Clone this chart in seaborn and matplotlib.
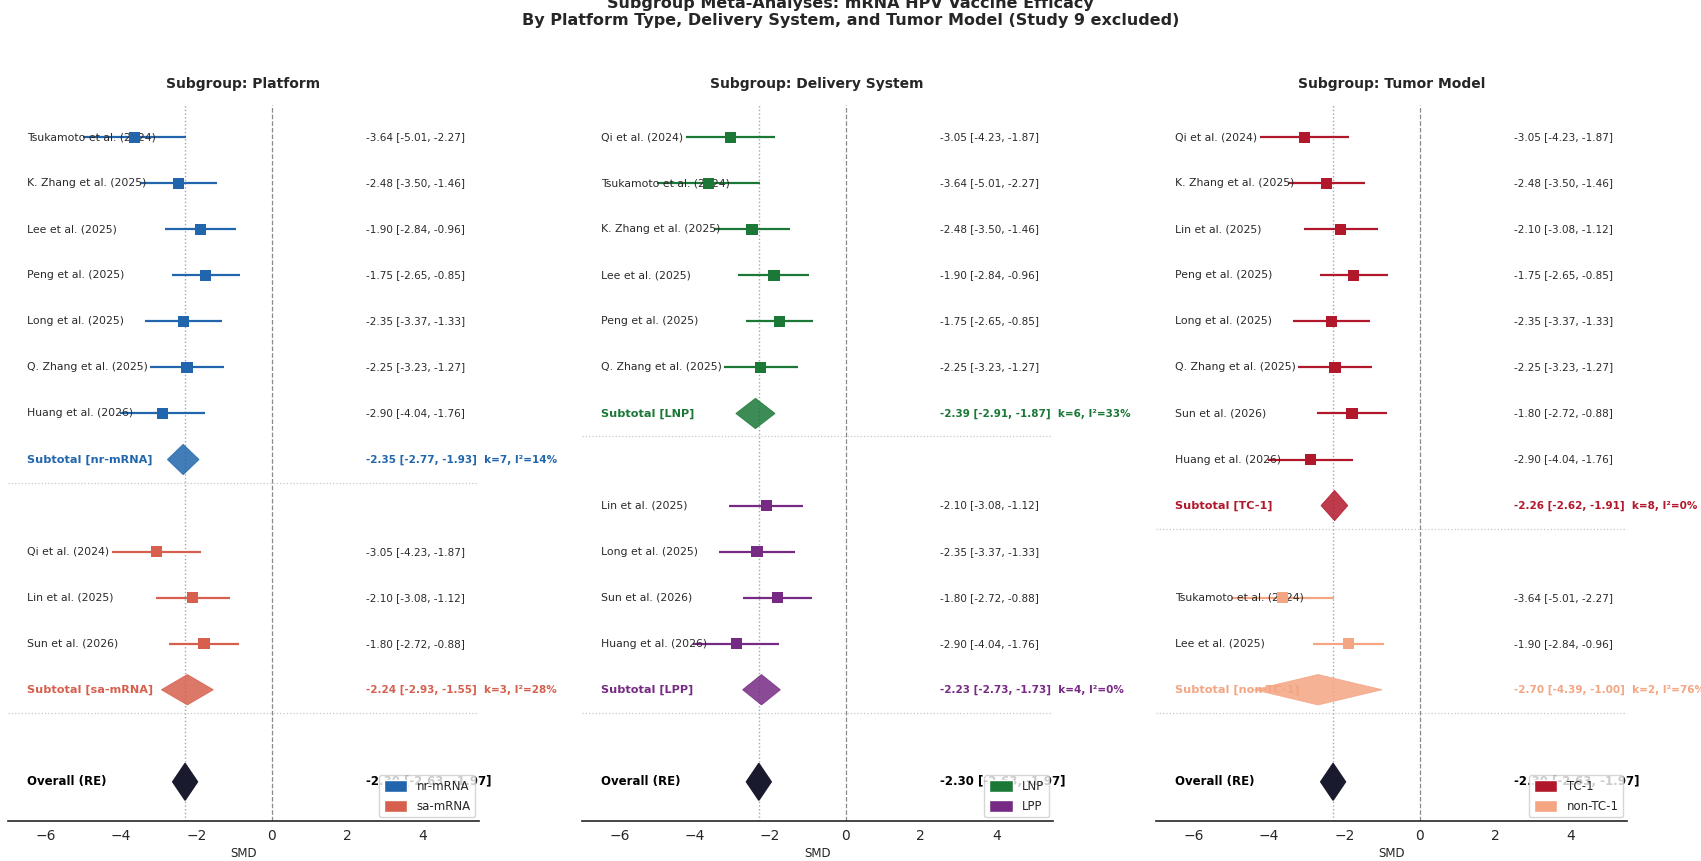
import matplotlib
matplotlib.use("Agg")
import matplotlib.pyplot as plt
from matplotlib.patches import Polygon, Patch
import pandas as pd
import seaborn as sns

# study level effects (SMD with 95% CI)
studies = ["Tsukamoto et al. (2024)", "K. Zhang et al. (2025)", "Lee et al. (2025)",
           "Peng et al. (2025)", "Long et al. (2025)", "Q. Zhang et al. (2025)",
           "Huang et al. (2026)", "Qi et al. (2024)", "Lin et al. (2025)", "Sun et al. (2026)"]
smd = [-3.64, -2.48, -1.90, -1.75, -2.35, -2.25, -2.90, -3.05, -2.10, -1.80]
ci_lo = [-5.01, -3.50, -2.84, -2.65, -3.37, -3.23, -4.04, -4.23, -3.08, -2.72]
ci_hi = [-2.27, -1.46, -0.96, -0.85, -1.33, -1.27, -1.76, -1.87, -1.12, -0.88]

# subgroup: platform
platform_groups = ["nr-mRNA", "sa-mRNA"]
platform_members = [["Tsukamoto et al. (2024)", "K. Zhang et al. (2025)", "Lee et al. (2025)",
                     "Peng et al. (2025)", "Long et al. (2025)", "Q. Zhang et al. (2025)",
                     "Huang et al. (2026)"],
                    ["Qi et al. (2024)", "Lin et al. (2025)", "Sun et al. (2026)"]]
platform_est = [-2.35, -2.24]
platform_lo = [-2.77, -2.93]
platform_hi = [-1.93, -1.55]
platform_k = [7, 3]
platform_i2 = [14, 28]

# subgroup: delivery system
delivery_groups = ["LNP", "LPP"]
delivery_members = [["Qi et al. (2024)", "Tsukamoto et al. (2024)", "K. Zhang et al. (2025)",
                     "Lee et al. (2025)", "Peng et al. (2025)", "Q. Zhang et al. (2025)"],
                    ["Lin et al. (2025)", "Long et al. (2025)", "Sun et al. (2026)",
                     "Huang et al. (2026)"]]
delivery_est = [-2.39, -2.23]
delivery_lo = [-2.91, -2.73]
delivery_hi = [-1.87, -1.73]
delivery_k = [6, 4]
delivery_i2 = [33, 0]

# subgroup: tumor model
tumor_groups = ["TC-1", "non-TC-1"]
tumor_members = [["Qi et al. (2024)", "K. Zhang et al. (2025)", "Lin et al. (2025)",
                  "Peng et al. (2025)", "Long et al. (2025)", "Q. Zhang et al. (2025)",
                  "Sun et al. (2026)", "Huang et al. (2026)"],
                 ["Tsukamoto et al. (2024)", "Lee et al. (2025)"]]
tumor_est = [-2.26, -2.70]
tumor_lo = [-2.62, -4.39]
tumor_hi = [-1.91, -1.00]
tumor_k = [8, 2]
tumor_i2 = [0, 76]

overall_est = -2.30
overall_lo = -2.63
overall_hi = -1.97

colors = {"nr-mRNA": "#2166ac", "sa-mRNA": "#d6604d",
          "LNP": "#1b7837", "LPP": "#762a83",
          "TC-1": "#b2182b", "non-TC-1": "#f4a582"}
overall_color = "#1a1a2e"

sns.set_style("white")
plt.rcParams["font.family"] = ["DejaVu Sans"]

fig = plt.figure(figsize=(17.01, 8.61), dpi=100)

panels = [
    ("Platform", platform_groups, platform_members, platform_est, platform_lo, platform_hi, platform_k, platform_i2),
    ("Delivery System", delivery_groups, delivery_members, delivery_est, delivery_lo, delivery_hi, delivery_k, delivery_i2),
    ("Tumor Model", tumor_groups, tumor_members, tumor_est, tumor_lo, tumor_hi, tumor_k, tumor_i2),
]
lefts = [0.0047, 0.342, 0.6796]

for left, (title, groups, members, est, lo, hi, ks, i2s) in zip(lefts, panels):
    ax = fig.add_axes([left, 0.0465, 0.2769, 0.8316])
    ax.axvline(0, color="#8a8a8a", ls="--", lw=0.9, zorder=1)
    ax.axvline(overall_est, color="#a0a6b8", ls=":", lw=1.0, zorder=1)

    recs = []
    row = 0
    for gi, g in enumerate(groups):
        c = colors[g]
        for name in members[gi]:
            i = studies.index(name)
            ax.hlines(row, ci_lo[i], ci_hi[i], color=c, lw=1.6, zorder=2)
            recs.append({"smd": smd[i], "row": row, "group": g})
            ax.text(-6.5, row, name, fontsize=7.8, color="#2a2a2a", va="center", ha="left")
            ax.text(2.5, row, f"{smd[i]:.2f} [{ci_lo[i]:.2f}, {ci_hi[i]:.2f}]",
                    fontsize=7.5, color="#2a2a2a", va="center", ha="left")
            row += 1
        h = 0.33
        ax.add_patch(Polygon([(lo[gi], row), (est[gi], row - h), (hi[gi], row), (est[gi], row + h)],
                             closed=True, facecolor=c, edgecolor=c, lw=0.6, alpha=0.85, zorder=3))
        ax.text(-6.5, row, f"Subtotal [{g}]", fontsize=8.1, fontweight="bold", color=c,
                va="center", ha="left")
        ax.text(2.5, row, f"{est[gi]:.2f} [{lo[gi]:.2f}, {hi[gi]:.2f}]  k={ks[gi]}, I\u00b2={i2s[gi]}%",
                fontsize=7.5, fontweight="bold", color=c, va="center", ha="left")
        ax.axhline(row + 0.5, color="#c8c8c8", ls=":", lw=0.9, zorder=1)
        row += 2

    df = pd.DataFrame(recs)
    sns.scatterplot(data=df, x="smd", y="row", hue="group", palette=colors, marker="s",
                    s=65, linewidth=0, legend=False, ax=ax, zorder=4)

    h = 0.4
    ax.add_patch(Polygon([(overall_lo, row), (overall_est, row - h), (overall_hi, row), (overall_est, row + h)],
                         closed=True, facecolor=overall_color, edgecolor=overall_color, zorder=3))
    ax.text(-6.5, row, "Overall (RE)", fontsize=8.5, fontweight="bold", color="black",
            va="center", ha="left")
    ax.text(2.5, row, f"{overall_est:.2f} [{overall_lo:.2f}, {overall_hi:.2f}]",
            fontsize=8.5, fontweight="bold", color="black", va="center", ha="left")

    ax.set_xlim(-7, 5.5)
    ax.set_ylim(14.85, -0.7)
    ax.set_xticks([-6, -4, -2, 0, 2, 4])
    ax.set_yticks([])
    ax.set_ylabel("")
    ax.set_xlabel("SMD", fontsize=8.5, labelpad=3)
    ax.tick_params(axis="x", labelsize=10, length=4, width=1, color="#333333", pad=2)
    sns.despine(ax=ax, left=True)
    ax.spines["bottom"].set_linewidth(1.2)
    ax.set_title(f"Subgroup: {title}", fontsize=10, fontweight="bold", pad=12)

    handles = [Patch(facecolor=colors[g], label=g) for g in groups]
    ax.legend(handles=handles, loc="lower right", fontsize=8.5, framealpha=0.8,
              borderaxespad=0.3, handlelength=2.0, handleheight=1.2, labelspacing=0.55)

fig.text(0.5, 0.986,
         "Subgroup Meta-Analyses: mRNA HPV Vaccine Efficacy\n"
         "By Platform Type, Delivery System, and Tumor Model (Study 9 excluded)",
         ha="center", va="center", fontsize=11.5, fontweight="bold")

fig.savefig("out.png", dpi=100)
